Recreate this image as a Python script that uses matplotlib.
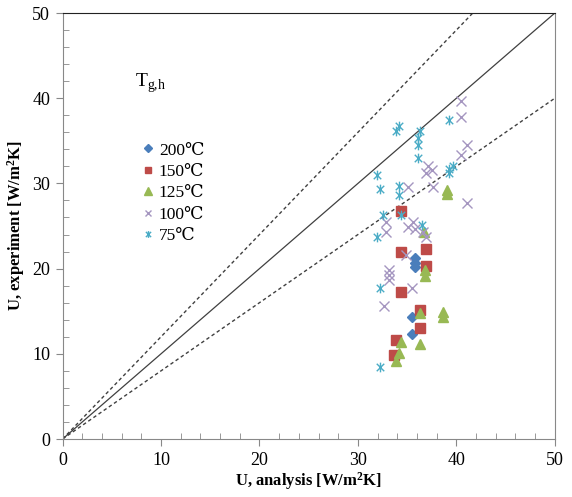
import numpy as np
import matplotlib
matplotlib.use("Agg")
import matplotlib.pyplot as plt
from matplotlib.path import Path
from matplotlib.ticker import MultipleLocator

plt.rcParams['font.family'] = ['Liberation Serif', 'DejaVu Serif']
plt.rcParams['mathtext.fontset'] = 'custom'
plt.rcParams['mathtext.rm'] = 'Liberation Serif'
plt.rcParams['mathtext.bf'] = 'Liberation Serif:bold'

# 200 C
x200 = [35.8, 35.8, 35.8, 35.5, 35.5]
y200 = [21.2, 20.7, 20.2, 14.3, 12.3]
# 150 C
x150 = [34.4, 34.4, 36.9, 36.9, 34.4, 36.3, 36.3, 33.9, 33.7]
y150 = [26.8, 22.0, 22.3, 20.3, 17.3, 15.1, 13.0, 11.6, 9.9]
# 125 C
x125 = [39.0, 39.0, 36.7, 36.8, 36.8, 36.3, 38.6, 38.6, 34.4, 36.3, 34.2, 33.9]
y125 = [29.2, 28.8, 24.3, 19.8, 19.1, 14.8, 14.9, 14.3, 11.4, 11.2, 10.1, 9.2]
# 100 C
x100 = [40.5, 40.5, 41.1, 40.5, 37.1, 37.5, 36.9, 35.1, 37.6, 41.1, 32.8, 32.8,
        35.1, 35.6, 35.8, 36.6, 36.9, 34.9, 33.2, 33.2, 33.2, 35.5, 32.6]
y100 = [39.7, 37.8, 34.5, 33.3, 32.0, 31.6, 31.2, 29.6, 29.6, 27.7, 25.5, 24.3,
        24.9, 25.5, 24.7, 24.3, 23.7, 21.6, 19.8, 19.2, 18.7, 17.7, 15.6]
# 75 C
x75 = [34.2, 33.9, 36.3, 36.1, 36.1, 36.1, 39.3, 39.7, 39.3, 39.2, 31.9, 32.2,
       34.2, 34.2, 32.5, 34.4, 36.5, 31.9, 32.2, 32.2]
y75 = [36.7, 36.2, 36.1, 35.3, 34.5, 33.0, 37.4, 32.0, 31.7, 31.2, 31.0, 29.3,
       29.7, 28.6, 26.3, 26.3, 25.1, 23.7, 17.7, 8.4]

# excel style star: x with a vertical bar
star = Path([(-1, -1), (1, 1), (-1, 1), (1, -1), (0, -1.3), (0, 1.3)],
            [Path.MOVETO, Path.LINETO, Path.MOVETO, Path.LINETO, Path.MOVETO, Path.LINETO])

fig = plt.figure(figsize=(5.72, 4.97), dpi=100)
ax = fig.add_axes([0.1094, 0.1167, 0.8606, 0.8571])

line = np.array([0, 50])
ax.plot(line, line, color='#404040', lw=0.9)
ax.plot(line, 1.2 * line, color='#404040', lw=1.0, ls=(0, (2.5, 2)))
ax.plot(line, 0.8 * line, color='#404040', lw=1.0, ls=(0, (2.5, 2)))

ax.plot(x200, y200, 'D', color='#4A7EBB', ms=5.5, ls='none', label='200\u2103')
ax.plot(x150, y150, 's', color='#BE4B48', ms=7, ls='none', label='150\u2103')
ax.plot(x125, y125, '^', color='#98B954', ms=7.5, ls='none', label='125\u2103')
ax.plot(x100, y100, 'x', color='#A596C0', ms=7, mew=1.0, ls='none', label='100\u2103')
ax.plot(x75, y75, marker=star, color='#4BACC6', mfc='none', ms=7, mew=1.0, ls='none', label='75\u2103')

ax.set_xlim(0, 50)
ax.set_ylim(0, 50)
ax.xaxis.set_major_locator(MultipleLocator(10))
ax.yaxis.set_major_locator(MultipleLocator(10))
ax.xaxis.set_minor_locator(MultipleLocator(2))
ax.yaxis.set_minor_locator(MultipleLocator(2))
ax.tick_params(which='major', direction='out', length=5, color='#888888', labelsize=13, pad=4)
ax.tick_params(which='minor', direction='in', length=4, color='#888888')
for s in ['left', 'bottom', 'right']:
    ax.spines[s].set_color('#888888')
ax.spines['top'].set_color('#222222')

ax.set_xlabel('U, analysis [W/m$\\mathbf{^{2}}$K]', fontweight='bold', fontsize=12, labelpad=1)
ax.set_ylabel('U, experiment [W/m$\\mathbf{^{2}}$K]', fontweight='bold', fontsize=12, labelpad=4)

ax.text(8.9, 41.7, 'T$_{\\mathregular{g{,}h}}$', fontsize=14, ha='center', va='center')
leg = ax.legend(loc='upper left', bbox_to_anchor=(0.132, 0.733),
                frameon=False, fontsize=12.5, markerscale=0.7, handlelength=0.6,
                handletextpad=0.3, labelspacing=0.3)

fig.savefig('out.png', dpi=100)
